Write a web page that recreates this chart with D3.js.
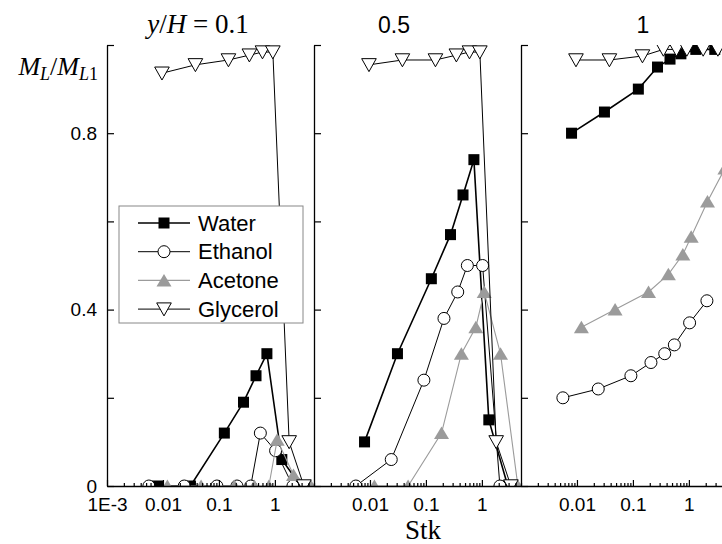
<!DOCTYPE html>
<html>
<head>
<meta charset="utf-8">
<script src="https://cdn.jsdelivr.net/npm/d3@7"></script>
<style>
  body { margin: 0; background: #fff; }
  svg { display: block; }
  .tick text { font-family: "Liberation Sans", Arial, sans-serif; font-size: 19px; fill: #000; }
</style>
</head>
<body>
<div id="chart"></div>
<script>
// Stokes numbers of each series (same in all three panels)
const stkWater    = [0.008, 0.031, 0.125, 0.275, 0.46, 0.72, 1.33, 2.9];
const stkEthanol  = [0.0056, 0.024, 0.092, 0.21, 0.37, 0.55, 1.03, 2.1];
const stkAcetone  = [0.012, 0.048, 0.19, 0.43, 0.78, 1.1, 2.15, 4.4];
const stkGlycerol = [0.0096, 0.038, 0.148, 0.35, 0.6, 0.92, 1.8, 3.3];

// M_L/M_L1 at y/H = 0.1
const water01    = [0, 0, 0.12, 0.19, 0.25, 0.30, 0.06, 0];
const ethanol01  = [0, 0, 0, 0, 0, 0.12, 0.08, 0];
const acetone01  = [0, 0, 0, 0, 0, 0.105, 0.025, 0];
const glycerol01 = [0.936, 0.955, 0.966, 0.977, 0.984, 0.984, 0.10, 0];

// y/H = 0.5
const water05    = [0.10, 0.30, 0.47, 0.57, 0.66, 0.74, 0.15, 0];
const ethanol05  = [0, 0.06, 0.24, 0.38, 0.44, 0.50, 0.50, 0];
const acetone05  = [0, 0, 0.12, 0.30, 0.36, 0.44, 0.30, 0];
const glycerol05 = [0.955, 0.966, 0.966, 0.977, 0.984, 0.984, 0.10, 0];

// y/H = 1
const water1    = [0.80, 0.848, 0.90, 0.95, 0.968, 0.98, 0.99, 0.99];
const ethanol1  = [0.20, 0.22, 0.25, 0.28, 0.30, 0.32, 0.37, 0.42];
const acetone1  = [0.36, 0.40, 0.44, 0.48, 0.525, 0.565, 0.645, 0.72];
const glycerol1 = [0.966, 0.966, 0.975, 0.99, 0.99, 0.99, 0.99, 0.99];

const seriesNames = ["Water", "Ethanol", "Acetone", "Glycerol"];
const panelTitles = ["0.1", "0.5", "1"];
const yTicks = [0, 0.2, 0.4, 0.6, 0.8, 1.0];
const yLabels = [0, 0.4, 0.8];
const xMajor = [0.001, 0.01, 0.1, 1];

const panels = [
  [water01, ethanol01, acetone01, glycerol01],
  [water05, ethanol05, acetone05, glycerol05],
  [water1, ethanol1, acetone1, glycerol1]
];
const stks = [stkWater, stkEthanol, stkAcetone, stkGlycerol];

const gray = "#9b9b9b";
const serif = "'Liberation Serif', 'Times New Roman', serif";
const sans = "'Liberation Sans', Arial, sans-serif";
const styles = [
  {stroke: "#000", width: 1.6, marker: "square"},
  {stroke: "#000", width: 1, marker: "circle"},
  {stroke: gray, width: 1.1, marker: "up"},
  {stroke: "#000", width: 1, marker: "down"}
];

const svg = d3.select("#chart").append("svg")
  .attr("width", 722).attr("height", 544);

const margin = {top: 45, left: 107},
      pw = 207, ph = 441;

const x = d3.scaleLog().domain([0.001, 5]).range([0, pw]);
const y = d3.scaleLinear().domain([0, 1]).range([ph, 0]);

let xMinor = [];
for (let e = -3; e <= 0; e++) for (let m = 2; m <= 9; m++) {
  const v = m * Math.pow(10, e);
  if (v <= 5) xMinor.push(v);
}

function drawMarker(sel, type) {
  if (type === "square") {
    sel.append("rect").attr("x", -5.5).attr("y", -5.5).attr("width", 11).attr("height", 11)
      .attr("fill", "#000");
  } else if (type === "circle") {
    sel.append("circle").attr("r", 6).attr("fill", "#fff").attr("stroke", "#000").attr("stroke-width", 1);
  } else if (type === "up") {
    sel.append("path").attr("d", "M0,-6.5L7.5,6L-7.5,6Z").attr("fill", gray);
  } else {
    sel.append("path").attr("d", "M-7.3,-6.2L7.3,-6.2L0,6.8Z")
      .attr("fill", "#fff").attr("stroke", "#000").attr("stroke-width", 1);
  }
}

const line = d3.line().x(d => x(d[0])).y(d => y(d[1]));

panels.forEach((vals, p) => {
  const g = svg.append("g")
    .attr("transform", `translate(${margin.left + p * pw},${margin.top})`);

  g.append("clipPath").attr("id", "clip" + p)
    .append("rect").attr("width", pw).attr("height", ph);

  const plot = g.append("g").attr("clip-path", `url(#clip${p})`);

  vals.forEach((v, s) => {
    const pts = d3.zip(stks[s], v);
    const st = styles[s];
    plot.append("path").datum(pts)
      .attr("fill", "none")
      .attr("stroke", st.stroke)
      .attr("stroke-width", st.width)
      .attr("d", line);
    plot.selectAll(null).data(pts).enter().append("g")
      .attr("transform", d => `translate(${x(d[0])},${y(d[1])})`)
      .each(function() { drawMarker(d3.select(this), st.marker); });
  });

  // bottom axis: minor then major ticks, pointing inward
  g.append("g").attr("transform", `translate(0,${ph})`)
    .call(d3.axisBottom(x).tickValues(xMinor).tickSize(-3).tickSizeOuter(0).tickFormat(""))
    .call(a => a.select(".domain").remove());
  g.append("g").attr("transform", `translate(0,${ph})`)
    .call(d3.axisBottom(x).tickValues(p === 0 ? xMajor : xMajor.slice(1))
      .tickSize(-6).tickSizeOuter(0).tickPadding(12)
      .tickFormat(d => d === 0.001 ? "1E-3" : d3.format("~g")(d)));

  g.append("g")
    .call(d3.axisLeft(y).tickValues(yTicks).tickSize(-7).tickSizeOuter(0).tickPadding(10)
      .tickFormat(d => (p === 0 && yLabels.includes(d)) ? d3.format("~g")(d) : ""));

  g.selectAll(".domain").attr("stroke", "#000").attr("stroke-width", 1.3);
  g.selectAll(".tick line").attr("stroke", "#000").attr("stroke-width", 1.2);
});

// panel titles
const titleX = [198, 394, 643];
const t0 = svg.append("text").attr("x", titleX[0]).attr("y", 33)
  .attr("text-anchor", "middle")
  .style("font-family", serif).style("font-size", "27px")
  .style("white-space", "pre");
t0.append("tspan").attr("font-style", "italic").text("y");
t0.append("tspan").text("/");
t0.append("tspan").attr("font-style", "italic").text("H");
t0.append("tspan").text(" = " + panelTitles[0]);

panelTitles.slice(1).forEach((t, i) => {
  svg.append("text").attr("x", titleX[i + 1]).attr("y", 33)
    .attr("text-anchor", "middle")
    .style("font-family", sans).style("font-size", "23px")
    .text(t);
});

// y label
const yl = svg.append("text").attr("x", 98).attr("y", 75)
  .attr("text-anchor", "end")
  .style("font-family", serif).style("font-size", "26px");
yl.append("tspan").attr("font-style", "italic").text("M");
yl.append("tspan").attr("font-style", "italic").attr("font-size", "18px").attr("dy", 5).text("L");
yl.append("tspan").attr("dy", -5).text("/");
yl.append("tspan").attr("font-style", "italic").text("M");
yl.append("tspan").attr("font-style", "italic").attr("font-size", "18px").attr("dy", 5).text("L");
yl.append("tspan").attr("font-size", "18px").text("1");

// x label
svg.append("text").attr("x", 423).attr("y", 539)
  .attr("text-anchor", "middle")
  .style("font-family", serif).style("font-size", "27px")
  .text("Stk");

// legend
const lg = svg.append("g").attr("transform", "translate(119,206)");
lg.append("rect").attr("width", 184).attr("height", 117)
  .attr("fill", "#fff").attr("stroke", "#888").attr("stroke-width", 1);
seriesNames.forEach((name, i) => {
  const row = lg.append("g").attr("transform", `translate(0,${17 + i * 28.7})`);
  row.append("line").attr("x1", 19).attr("x2", 71)
    .attr("stroke", styles[i].stroke).attr("stroke-width", styles[i].width);
  drawMarker(row.append("g").attr("transform", "translate(45,0)"), styles[i].marker);
  row.append("text").attr("x", 79).attr("dy", "0.35em")
    .style("font-family", sans).style("font-size", "22px")
    .text(name);
});
</script>
</body>
</html>
